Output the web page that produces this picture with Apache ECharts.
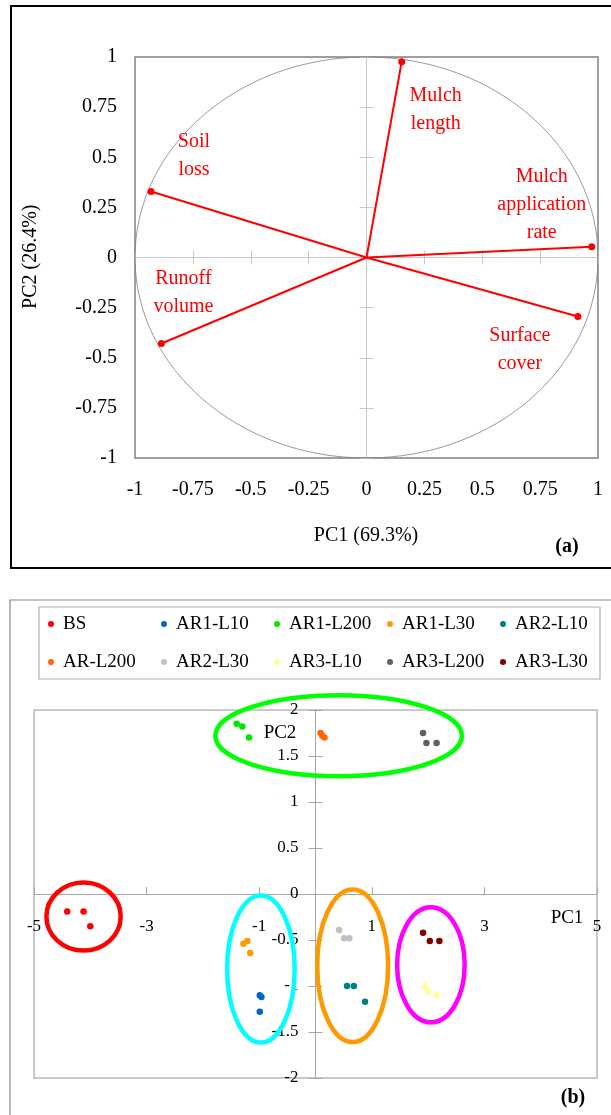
<!DOCTYPE html>
<html><head><meta charset="utf-8">
<script src="https://cdn.jsdelivr.net/npm/echarts@6/dist/echarts.min.js"></script>
<style>html,body{margin:0;padding:0;background:#fff}#c{width:611px;height:1115px}</style>
</head><body><div id="c"></div>
<script>
// ---------- Panel (a): loadings ----------
const varNames  = ['Mulch length', 'Soil loss', 'Mulch application rate', 'Runoff volume', 'Surface cover'];
const varLabels = ['Mulch\nlength', 'Soil\nloss', 'Mulch\napplication\nrate', 'Runoff\nvolume', 'Surface\ncover'];
const loadPC1   = [0.152, -0.931, 0.973, -0.886, 0.913];
const loadPC2   = [0.976, 0.329, 0.053, -0.429, -0.294];
const circleA   = [[0, 0, 1, 1]]; // correlation circle: centre x, centre y, radius x, radius y

// ---------- Panel (b): scores ----------
const treatments = ['BS', 'AR1-L10', 'AR1-L200', 'AR1-L30', 'AR2-L10', 'AR-L200', 'AR2-L30', 'AR3-L10', 'AR3-L200', 'AR3-L30'];
const scorePC1 = [
  [-4.41, -4.12, -4.00],
  [-0.99, -0.96, -0.99],
  [-1.40, -1.30, -1.18],
  [-1.28, -1.21, -1.16],
  [0.56, 0.68, 0.88],
  [0.09, 0.16, 0.12],
  [0.42, 0.51, 0.60],
  [1.94, 2.00, 2.15],
  [1.91, 1.97, 2.15],
  [1.91, 2.03, 2.20]
];
const scorePC2 = [
  [-0.19, -0.19, -0.35],
  [-1.10, -1.12, -1.28],
  [1.85, 1.82, 1.70],
  [-0.54, -0.51, -0.64],
  [-1.00, -1.00, -1.17],
  [1.75, 1.70, 1.72],
  [-0.39, -0.48, -0.48],
  [-1.01, -1.06, -1.10],
  [1.75, 1.64, 1.64],
  [-0.42, -0.51, -0.51]
];
// group ellipses (centre and half-widths in PC units)
const groupCX = [-4.12, -0.97, 0.66, 2.05, 0.41];
const groupCY = [-0.245, -0.815, -0.78, -0.77, 1.72];
const groupRX = [0.66, 0.60, 0.63, 0.60, 2.19];
const groupRY = [0.37, 0.80, 0.83, 0.625, 0.44];
// axis ranges of panel (b)
const pc1Range = [-5, 5];
const pc2Range = [-2, 2];

// ---------- styles ----------
const FONT = "'Liberation Serif', 'Times New Roman', serif";
const treatColors = ['#ff0000', '#0066cc', '#00e600', '#ff9900', '#008080', '#ff6600', '#c0c0c0', '#ffff99', '#606060', '#800000'];
const groupColors = ['#ff0000', '#00ffff', '#ff9900', '#ff00ff', '#00ff00'];
const labelOffsets = [[34, 48], [43, -36], [-50, -42], [22, -51], [-58, 33]];
const gridB = { left: 34, top: 710, width: 563, height: 368 };
// label axes of panel (b) are shifted onto the zero lines
const xLabShift = -gridB.height * (0 - pc2Range[0]) / (pc2Range[1] - pc2Range[0]);
const yLabShift = -gridB.width * (0 - pc1Range[0]) / (pc1Range[1] - pc1Range[0]);

const series = [];

// correlation circle
series.push({
  type: 'custom', xAxisIndex: 0, yAxisIndex: 0, silent: true, z: 1,
  data: circleA,
  renderItem: (params, api) => {
    const c = api.coord([api.value(0), api.value(1)]);
    const s = api.size([api.value(2), api.value(3)]);
    return { type: 'ellipse', shape: { cx: c[0], cy: c[1], rx: s[0], ry: s[1] },
      style: { fill: 'none', stroke: '#808080', lineWidth: 0.8 } };
  }
});

// loading vectors
varNames.forEach((n, i) => {
  series.push({
    name: n, type: 'line', xAxisIndex: 0, yAxisIndex: 0, silent: true, z: 3,
    symbol: 'circle', symbolSize: 7, showSymbol: true,
    lineStyle: { color: '#ff0000', width: 2 }, itemStyle: { color: '#ff0000' },
    data: [
      { value: [0, 0], symbol: 'none' },
      { value: [loadPC1[i], loadPC2[i]],
        label: { show: true, position: 'inside', offset: labelOffsets[i], formatter: varLabels[i],
          color: '#ff0000', fontFamily: FONT, fontSize: 20, lineHeight: 28, align: 'center', verticalAlign: 'middle' } }
    ]
  });
});

// score points
treatments.forEach((t, i) => {
  series.push({
    name: t, type: 'scatter', xAxisIndex: 3, yAxisIndex: 3, z: 3,
    symbol: 'circle', symbolSize: 6.5,
    itemStyle: { color: treatColors[i], opacity: 1 },
    data: scorePC1[i].map((x, k) => [x, scorePC2[i][k]])
  });
});

// group ellipses
series.push({
  type: 'custom', xAxisIndex: 3, yAxisIndex: 3, silent: true, z: 4,
  data: groupCX.map((x, i) => [x, groupCY[i], groupRX[i], groupRY[i]]),
  renderItem: (params, api) => {
    const c = api.coord([api.value(0), api.value(1)]);
    const s = api.size([api.value(2), api.value(3)]);
    return { type: 'ellipse', shape: { cx: c[0], cy: c[1], rx: s[0], ry: s[1] },
      style: { fill: 'none', stroke: groupColors[params.dataIndex], lineWidth: 4.5 } };
  }
});

const lightA = '#c8c8c8';
const axB = '#a6a6a6';
const labA = { fontFamily: FONT, fontSize: 20, color: '#000' };
const labB = { fontFamily: FONT, fontSize: 17, color: '#000' };

function lineAxis(grid, min, max, interval, pos, zeroIdx, inside, color) {
  return { gridIndex: grid, type: 'value', min: min, max: max, interval: interval, position: pos,
    axisLine: { show: true, onZero: true, onZeroAxisIndex: zeroIdx, lineStyle: { color: color, width: 1 } },
    axisTick: { show: true, inside: inside, length: 7, lineStyle: { color: color } },
    splitLine: { show: false }, axisLabel: { show: false } };
}
function labelAxis(grid, min, max, interval, pos, margin, lab, offset) {
  return { gridIndex: grid, type: 'value', min: min, max: max, interval: interval, position: pos, offset: offset || 0,
    axisLine: { show: false, onZero: false }, axisTick: { show: false }, splitLine: { show: false },
    axisLabel: Object.assign({ margin: margin, showMinLabel: true, showMaxLabel: true }, lab) };
}

const option = {
  animation: false,
  backgroundColor: '#fff',
  grid: [
    { left: 135, top: 57, width: 463, height: 401, show: true, borderColor: '#808080', borderWidth: 1.5, outerBoundsMode: 'none' },
    Object.assign({ show: true, borderColor: '#b8b8b8', borderWidth: 1.5, outerBoundsMode: 'none' }, gridB)
  ],
  xAxis: [
    labelAxis(0, -1, 1, 0.25, 'bottom', 22, labA),                       // 0
    lineAxis(0, -1, 1, 0.25, 'bottom', 0, false, lightA),                 // 1
    lineAxis(0, -1, 1, 0.25, 'bottom', 0, true, lightA),                  // 2
    labelAxis(1, pc1Range[0], pc1Range[1], 2, 'bottom', 24, labB, xLabShift), // 3
    lineAxis(1, pc1Range[0], pc1Range[1], 2, 'bottom', 3, true, axB)      // 4
  ],
  yAxis: [
    labelAxis(0, -1, 1, 0.25, 'left', 18, labA),                          // 0
    lineAxis(0, -1, 1, 0.25, 'left', 0, false, lightA),                   // 1
    lineAxis(0, -1, 1, 0.25, 'left', 0, true, lightA),                    // 2
    labelAxis(1, pc2Range[0], pc2Range[1], 0.5, 'left', 17, labB, yLabShift), // 3
    lineAxis(1, pc2Range[0], pc2Range[1], 0.5, 'left', 3, false, axB),    // 4
    lineAxis(1, pc2Range[0], pc2Range[1], 0.5, 'left', 3, true, axB)      // 5
  ],
  legend: {
    data: treatments,
    left: 39, top: 607, width: 565,
    orient: 'horizontal',
    padding: [5, 1, 5, 9],
    itemGap: 14,
    itemWidth: 14, itemHeight: 6,
    icon: 'circle',
    borderColor: '#b0b0b0', borderWidth: 1.2,
    selectedMode: false,
    textStyle: { fontFamily: FONT, fontSize: 19, color: '#000', width: 84, lineHeight: 24 }
  },
  graphic: [
    { type: 'rect', silent: true, z: 0, shape: { x: 11, y: 6, width: 650, height: 562 },
      style: { fill: 'none', stroke: '#000', lineWidth: 2 } },
    { type: 'rect', silent: true, z: 0, shape: { x: 10, y: 600, width: 650, height: 560 },
      style: { fill: 'none', stroke: '#888', lineWidth: 1.2 } },
    { type: 'text', x: 30.5, y: 256.7, rotation: Math.PI / 2, silent: true,
      style: { text: 'PC2 (26.4%)', x: 0, y: 0, fontFamily: FONT, fontSize: 20, fill: '#000', align: 'center', verticalAlign: 'middle' } },
    { type: 'text', x: 366, y: 536, silent: true,
      style: { text: 'PC1 (69.3%)', fontFamily: FONT, fontSize: 20, fill: '#000', align: 'center', verticalAlign: 'middle' } },
    { type: 'text', x: 567, y: 546.5, silent: true,
      style: { text: '(a)', fontFamily: FONT, fontSize: 20, fontWeight: 'bold', fill: '#000', align: 'center', verticalAlign: 'middle' } },
    { type: 'text', x: 280, y: 733, silent: true, z: 10,
      style: { text: 'PC2', fontFamily: FONT, fontSize: 19, fill: '#000', align: 'center', verticalAlign: 'middle' } },
    { type: 'text', x: 567, y: 918, silent: true,
      style: { text: 'PC1', fontFamily: FONT, fontSize: 19, fill: '#000', align: 'center', verticalAlign: 'middle' } },
    { type: 'text', x: 573, y: 1098, silent: true,
      style: { text: '(b)', fontFamily: FONT, fontSize: 20, fontWeight: 'bold', fill: '#000', align: 'center', verticalAlign: 'middle' } }
  ],
  series: series
};

const chart = echarts.init(document.getElementById('c'), null, { renderer: 'canvas' });
chart.setOption(option);
</script>
</body></html>
